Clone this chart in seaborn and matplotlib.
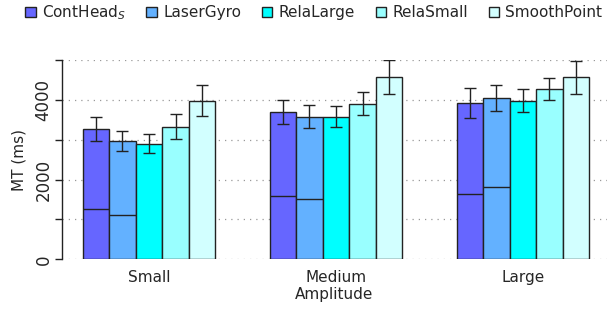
import numpy as np
import pandas as pd
import seaborn as sns
import matplotlib
matplotlib.use('Agg')
import matplotlib.pyplot as plt

# Values
amplitudes = ['Small', 'Medium', 'Large']
techniques = ['ContHead$_S$', 'LaserGyro', 'RelaLarge', 'RelaSmall', 'SmoothPoint']
colors = ['#6666ff', '#63b1ff', '#00ffff', '#99ffff', '#d2ffff']

mt_small = [3270, 2970, 2895, 3330, 3980]
mt_medium = [3695, 3580, 3580, 3905, 4580]
mt_large = [3930, 4045, 3980, 4280, 4565]

err_small = [290, 245, 240, 320, 385]
err_medium = [295, 285, 265, 285, 425]
err_large = [375, 335, 290, 275, 420]

# inner split line drawn in the first two bars
inner_small = [1270, 1120]
inner_medium = [1590, 1515]
inner_large = [1630, 1820]

rows = []
for amp, vals, errs in zip(amplitudes, [mt_small, mt_medium, mt_large],
                           [err_small, err_medium, err_large]):
    for tech, v, e in zip(techniques, vals, errs):
        rows.append({'Amplitude': amp, 'Technique': tech, 'MT': v, 'err': e})
df = pd.DataFrame(rows)

sns.set_style('white')
plt.rcParams['font.family'] = ['DejaVu Sans']

fig = plt.figure(figsize=(6.15, 3.14), dpi=100)
ax = fig.add_axes([0.101, 0.174, 0.886, 0.635])

sns.barplot(data=df, x='Amplitude', y='MT', hue='Technique', order=amplitudes,
            hue_order=techniques, palette=colors, errorbar=None, width=0.71,
            gap=0, edgecolor='#222222', linewidth=1.0, saturation=1, ax=ax,
            legend=True, zorder=3)

# error bars and inner lines, placed from seaborn's own bar patches
inner = [inner_small, inner_medium, inner_large]
bar_containers = list(ax.containers)
for h, cont in enumerate(bar_containers):
    for i, bar in enumerate(cont):
        xc = bar.get_x() + bar.get_width() / 2
        e = df[(df['Amplitude'] == amplitudes[i]) &
               (df['Technique'] == techniques[h])]['err'].values[0]
        ax.errorbar(xc, bar.get_height(), yerr=e, color='#222222', capsize=4.5,
                    elinewidth=1.0, capthick=1.0, zorder=4)
        if h < 2:
            ax.hlines(inner[i][h], bar.get_x(), bar.get_x() + bar.get_width(),
                      color='#222222', linewidth=1.0, zorder=4)

ax.set_ylim(0, 5000)
ax.set_xlim(-0.465, 2.45)
ax.set_yticks([0, 2000, 4000])
ax.set_yticks([1000, 3000, 5000], minor=True)
ax.set_yticklabels(['0', '2000', '4000'], rotation=90, va='center', fontsize=12)
ax.tick_params(axis='y', which='both', direction='out', length=5, width=1,
               left=True, color='#222222', pad=2)
ax.tick_params(axis='x', length=0, labelsize=11, pad=8)
for y in range(0, 6000, 1000):
    ax.axhline(y, color='#999999', linestyle=(0, (1, 4)), linewidth=0.9, zorder=0)

for s in ['top', 'right', 'bottom']:
    ax.spines[s].set_visible(False)
ax.spines['left'].set_color('#222222')
ax.spines['left'].set_linewidth(1.0)

ax.set_ylabel('MT (ms)', fontsize=11, labelpad=6)
ax.set_xlabel('Amplitude', fontsize=11, labelpad=1)

handles, labels = ax.get_legend_handles_labels()
ax.get_legend().remove()
fig.legend(handles, labels, loc='center', bbox_to_anchor=(0.51, 0.96), ncol=5,
           frameon=False, fontsize=11, handlelength=0.7, handleheight=0.7,
           handletextpad=0.4, columnspacing=1.35)

fig.savefig('out.png', dpi=100)
